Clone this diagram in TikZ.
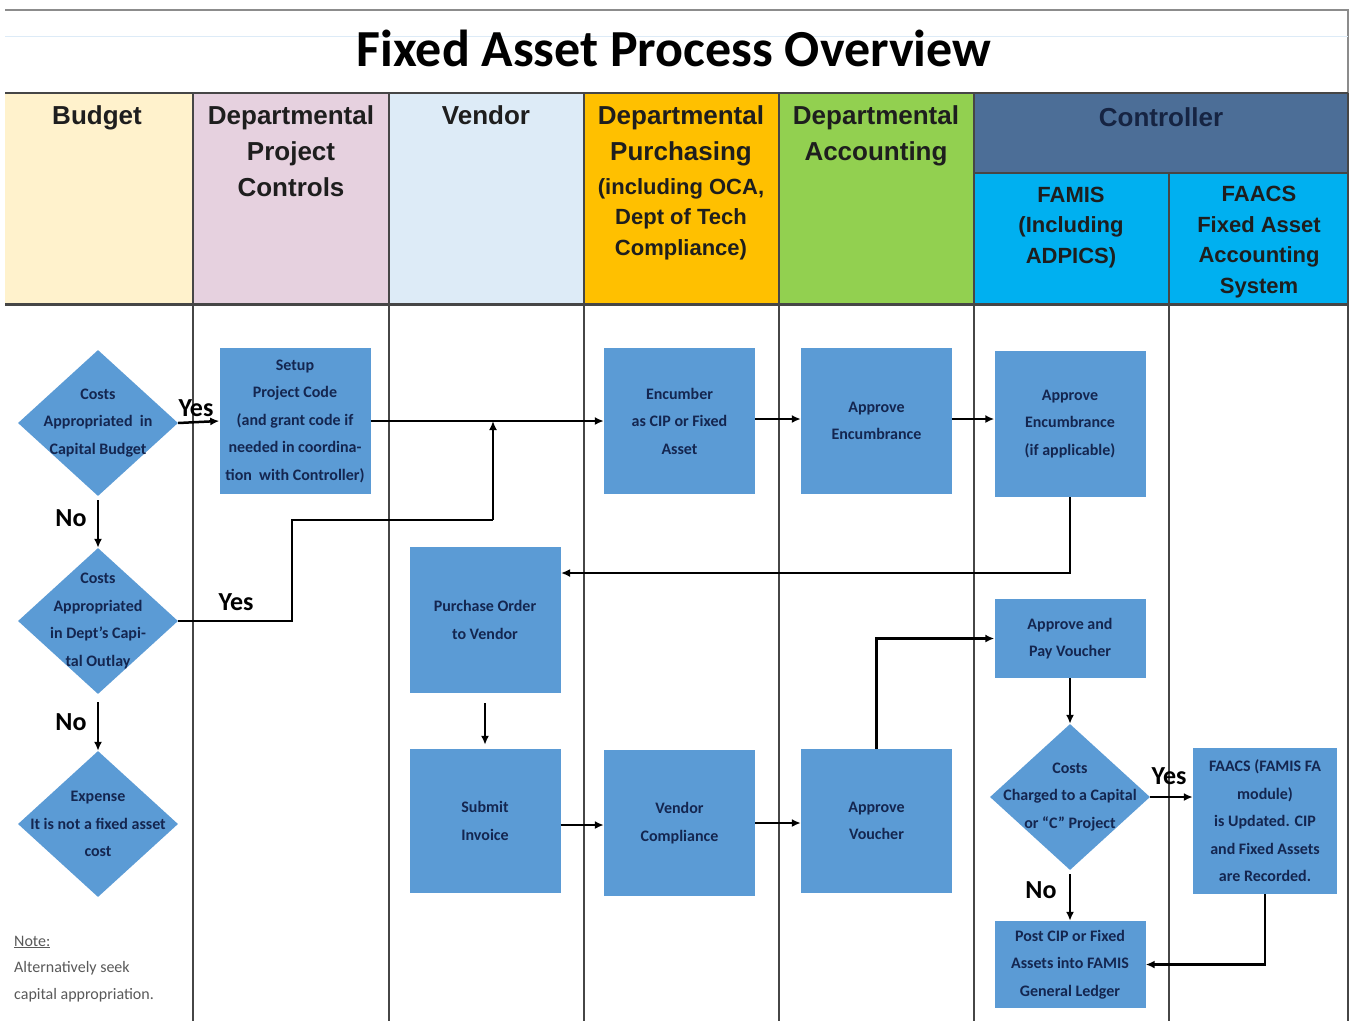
\documentclass[tikz,border=0pt]{standalone}
\usepackage{fontspec}
\setmainfont{Carlito}
\newfontfamily\hdr{Liberation Sans}
\usetikzlibrary{shapes.geometric,arrows.meta}
\definecolor{cBud}{RGB}{255,242,204}
\definecolor{cPrj}{RGB}{230,209,223}
\definecolor{cVen}{RGB}{221,235,247}
\definecolor{cPur}{RGB}{255,192,0}
\definecolor{cAcc}{RGB}{146,208,80}
\definecolor{cCtl}{RGB}{76,110,151}
\definecolor{cFam}{RGB}{0,176,240}
\definecolor{nodeblue}{RGB}{91,155,213}
\definecolor{navy}{RGB}{20,38,80}
\definecolor{hdtext}{RGB}{30,30,30}
\definecolor{ctltext}{RGB}{22,36,66}
\definecolor{laneline}{RGB}{70,70,70}
\begin{document}
\begin{tikzpicture}[x=1pt,y=-1pt,
  lane/.style={draw=laneline, line width=2},
  hd/.style={font=\hdr\bfseries\fontsize{26}{36}\selectfont, align=center, anchor=base, inner sep=0, text=hdtext},
  hds/.style={font=\hdr\bfseries\fontsize{22}{30.5}\selectfont, align=center, anchor=base, inner sep=0, text=hdtext},
  box/.style={fill=nodeblue, minimum width=151, minimum height=146, inner sep=0, font=\bfseries\fontsize{16}{27.5}\selectfont, text=navy, align=center},
  dia/.style={diamond, fill=nodeblue, minimum width=160, minimum height=146, inner sep=0},
  ntext/.style={font=\bfseries\fontsize{16}{27.5}\selectfont, text=navy, align=center, inner sep=0},
  arr/.style={-{Latex[length=9pt,width=8pt]}, line width=2.5, draw=black},
  ln/.style={line width=2.5, draw=black},
  yn/.style={font=\bfseries\fontsize{26}{30}\selectfont, inner sep=0},
  note/.style={font=\fontsize{16}{20}\selectfont, text=black!65, anchor=base west, inner sep=0}
]
\useasboundingbox (0,0) rectangle (1351,1021);
\fill[white] (0,0) rectangle (1351,1021);

% frame and title
\draw[black!45, line width=1.5] (5,10) -- (1348,10) -- (1348,93);
\draw[cVen, line width=1] (5,36) -- (1348,36);
\node[font=\bfseries\fontsize{52}{60}\selectfont, anchor=base, inner sep=0] (title) at (674,66) {Fixed Asset Process Overview};

% header fills
\fill[cBud] (5,93) rectangle (193,304);
\fill[cPrj] (193,93) rectangle (389,304);
\fill[cVen] (389,93) rectangle (584,304);
\fill[cPur] (584,93) rectangle (779,304);
\fill[cAcc] (779,93) rectangle (974,304);
\fill[cCtl] (974,93) rectangle (1348,173);
\fill[cFam] (974,173) rectangle (1348,304);

% header lines
\draw[lane] (5,93) -- (1348,93);
\draw[lane] (974,173) -- (1348,173);
\foreach \xx in {193,389,584,779,974,1348} {\draw[lane] (\xx,93) -- (\xx,304);}
\draw[lane] (1169,173) -- (1169,304);
\draw[laneline, line width=3] (5,304) -- (1348,304);
\foreach \xx in {193,389,584,779,974,1169,1348} {\draw[lane] (\xx,304) -- (\xx,1021);}

% header texts (base anchor = baseline of last line)
\node[hd] (hBud) at (97,124) {Budget};
\node[hd] (hPrj) at (291,196) {Departmental\\Project\\Controls};
\node[hd] (hVen) at (486,124) {Vendor};
\node[hd] (hPur) at (681,160) {Departmental\\Purchasing};
\node[hds] (hPur2) at (681,255) {(including OCA,\\Dept of Tech\\Compliance)};
\node[hd] (hAcc) at (876,160) {Departmental\\Accounting};
\node[hd, text=ctltext] (hCtl) at (1161,126) {Controller};
\node[hds] (hFam) at (1071,263) {FAMIS\\(Including\\ADPICS)};
\node[hds] (hFaa) at (1259,293) {FAACS\\Fixed Asset\\Accounting\\System};

% decision diamonds
\node[dia] (d1) at (98,423) {};
\node[ntext] (t1) at (d1) {Costs\\Appropriated\ \ in\\Capital Budget};
\node[dia] (d2) at (98,621) {};
\node[ntext] (t2) at (d2) {Costs\\Appropriated\\in Dept's Capi-\\tal Outlay};
\node[dia] (d3) at (98,824) {};
\node[ntext] (t3) at (d3) {Expense\\It is not a fixed asset\\cost};
\node[dia] (d4) at (1070,797) {};
\node[ntext] (t4) at (d4) {Costs\\Charged to a Capital\\or ``C'' Project};

% process boxes
\node[box] (b1) at (295,421) {Setup\\Project Code\\(and grant code if\\needed in coordina-\\tion\ \ with Controller)};
\node[box] (b2) at (679.5,421) {Encumber\\as CIP or Fixed\\Asset};
\node[box] (b3) at (876.5,421) {Approve\\Encumbrance};
\node[box] (b4) at (1070,424) {Approve\\Encumbrance\\(if applicable)};
\node[box] (b5) at (485,620) {Purchase Order\\to Vendor};
\node[box, minimum height=144] (b6) at (485,821) {Submit\\Invoice};
\node[box] (b7) at (679.5,823) {Vendor\\Compliance};
\node[box, minimum height=144] (b8) at (876.5,821) {Approve\\Voucher};
\node[box, minimum height=79] (b9) at (1070,638.5) {Approve and\\Pay Voucher};
\node[box, minimum width=144, minimum height=146] (b10) at (1265,821) {FAACS (FAMIS FA\\module)\\is Updated. CIP\\and Fixed Assets\\are Recorded.};
\node[box, minimum height=87] (b11) at (1070,964.5) {Post CIP or Fixed\\Assets into FAMIS\\General Ledger};

% note
\node[note] (n1) at (14,946) {\underline{Note:}};
\node[note] (n2) at (14,972) {Alternatively seek};
\node[note] (n3) at (14,999) {capital appropriation.};

% connectors
\coordinate (j1) at (493,421);
\coordinate (k1) at (292,520);
\coordinate (k2) at (493,520);
\draw[arr] (d1.east) -- (b1.west);
\draw[arr] (b1.east) -- (b2.west);
\draw[arr, shorten <=4pt] (d1.south) -- (d2.north);
\draw[arr, shorten <=8pt] (d2.south) -- (d3.north);
\draw[ln] (d2.east) -| (k1) -- (k2);
\draw[arr] (k2) -- (j1);
\coordinate (e2) at (755,419);
\draw[arr] (b2.east |- e2) -- (b3.west |- e2);
\draw[arr] (b3.east |- e2) -- (b4.west |- e2);
\coordinate (e5) at (561,573);
\draw[arr] (b4.south) |- (e5);
\draw[arr, shorten <=10pt, shorten >=4pt] (b5.south) -- (b6.north);
\coordinate (e6) at (561,825);
\draw[arr] (b6.east |- e6) -- (b7.west |- e6);
\draw[arr] (b7.east) -- (b8.west |- b7.east);
\draw[arr] (b8.north) |- (b9.west);
\draw[arr] (b9.south) -- (d4.north);
\draw[arr] (d4.east) -- (b10.west |- d4.east);
\draw[arr, shorten <=4pt] (d4.south) -- (b11.north);
\draw[arr] (b10.south) |- (b11.east);

% yes / no labels
\node[yn] (y1) at (196,408) {Yes};
\node[yn] (y2) at (236,602) {Yes};
\node[yn] (y3) at (1169,776) {Yes};
\node[yn] (no1) at (71,518) {No};
\node[yn] (no2) at (71,722) {No};
\node[yn] (no3) at (1041,890) {No};
\end{tikzpicture}
\end{document}
